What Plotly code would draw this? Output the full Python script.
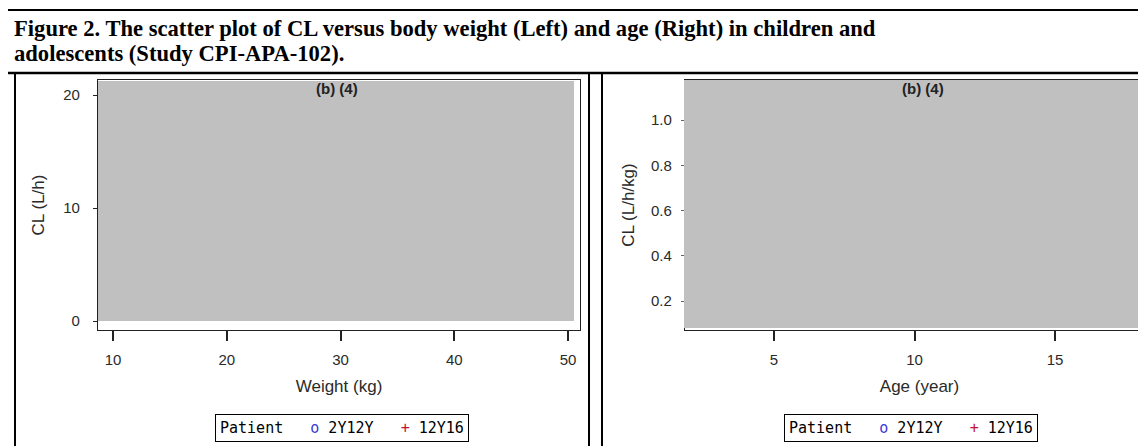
import plotly.graph_objects as go

W, H = 1146, 446

# ---- data (individual points are redacted "(b) (4)" in the source) ----
groups = ["2Y12Y", "12Y16"]
weight_2y12y, cl_2y12y = [], []
weight_12y16, cl_12y16 = [], []
age_2y12y, clkg_2y12y = [], []
age_12y16, clkg_12y16 = [], []

weight_ticks = [10, 20, 30, 40, 50]
cl_ticks = [0, 10, 20]
age_ticks = [5, 10, 15]
clkg_ticks = [0.2, 0.4, 0.6, 0.8, 1.0]

title_line1 = "Figure 2. The scatter plot of CL versus body weight (Left) and age (Right) in children and"
title_line2 = "adolescents (Study CPI-APA-102)."
redaction = "(b) (4)"
legend_title = "Patient"

BLUE = "#3a3ad8"
RED = "#c8102e"
TXT = "#2a2a2a"


def fx(px):
    return px / W


def fy(py):
    return 1 - py / H


fig = go.Figure()

series = [
    (weight_2y12y, cl_2y12y, "x", "y", groups[0], "circle-open", BLUE),
    (weight_12y16, cl_12y16, "x", "y", groups[1], "cross-thin-open", RED),
    (age_2y12y, clkg_2y12y, "x2", "y2", groups[0], "circle-open", BLUE),
    (age_12y16, clkg_12y16, "x2", "y2", groups[1], "cross-thin-open", RED),
]
for xs, ys, xa, ya, name, sym, col in series:
    fig.add_trace(go.Scatter(
        x=xs, y=ys, mode="markers", name=name, xaxis=xa, yaxis=ya, showlegend=False,
        marker=dict(symbol=sym, color=col, size=7, line=dict(width=1.5, color=col)),
    ))

tickfont = dict(family="Liberation Sans, Arial", size=15, color=TXT)
titlefont = dict(family="Liberation Sans, Arial", size=17, color=TXT)

L_x0, L_x1, top, bot = 90, 572, 72, 322
R_x0, R_x1 = 677, 1146

axis_common = dict(showline=True, linecolor="#222222", linewidth=1.2, mirror=True,
                   showgrid=False, zeroline=False, ticks="outside", tickfont=tickfont)

fig.update_layout(
    width=W, height=H, margin=dict(l=0, r=0, t=0, b=0),
    paper_bgcolor="white", plot_bgcolor="white", showlegend=False,
    xaxis=dict(domain=[fx(L_x0), fx(L_x1)], anchor="y",
               range=[10 - (105 - L_x0) / 11.375, 10 + (L_x1 - 105) / 11.375],
               tickvals=weight_ticks, ticklen=10, tickwidth=1.5, tickcolor="#222222",
               ticklabelstandoff=6,
               title=dict(text="Weight (kg)", font=titlefont, standoff=13), **axis_common),
    yaxis=dict(domain=[fy(bot), fy(top)], anchor="x",
               range=[-(bot - 313) / 11.3, (313 - top) / 11.3],
               tickvals=cl_ticks, ticklen=4, tickwidth=1.2, tickcolor="#222222",
               ticklabelstandoff=10,
               title=dict(text="CL (L/h)", font=titlefont, standoff=14), **axis_common),
    xaxis2=dict(domain=[fx(R_x0), fx(R_x1)], anchor="y2",
                range=[5 - (766 - R_x0) / 28.1, 5 + (R_x1 - 766) / 28.1],
                tickvals=age_ticks, ticklen=10, tickwidth=1.5, tickcolor="#222222",
                ticklabelstandoff=6,
                title=dict(text="Age (year)", font=titlefont, standoff=13), **axis_common),
    yaxis2=dict(domain=[fy(bot), fy(top)], anchor="x2",
                range=[1.0 - (bot - 112) / 226.25, 1.0 + (112 - top) / 226.25],
                tickvals=clkg_ticks, tickformat=".1f", ticklen=3, tickwidth=1, tickcolor="#666666",
                ticklabelstandoff=6,
                title=dict(text="CL (L/h/kg)", font=titlefont, standoff=12), **axis_common),
)

shapes = [
    dict(type="rect", xref="paper", yref="paper", x0=fx(90), x1=fx(566), y0=fy(313), y1=fy(73),
         fillcolor="#c0c0c0", line=dict(width=0), layer="below"),
    dict(type="rect", xref="paper", yref="paper", x0=fx(676), x1=fx(1146), y0=fy(320), y1=fy(72),
         fillcolor="#c0c0c0", line=dict(width=0), layer="above"),
    dict(type="line", xref="paper", yref="paper", x0=0, x1=1, y0=fy(2), y1=fy(2),
         line=dict(color="black", width=2)),
    dict(type="line", xref="paper", yref="paper", x0=0, x1=1, y0=fy(65), y1=fy(65),
         line=dict(color="black", width=2.5)),
    dict(type="line", xref="paper", yref="paper", x0=fx(7), x1=fx(7), y0=0, y1=fy(65),
         line=dict(color="black", width=2)),
    dict(type="line", xref="paper", yref="paper", x0=fx(581), x1=fx(581), y0=0, y1=fy(65),
         line=dict(color="black", width=2)),
    dict(type="line", xref="paper", yref="paper", x0=fx(594), x1=fx(594), y0=0, y1=fy(65),
         line=dict(color="black", width=2)),
]
fig.update_layout(shapes=shapes)

serif = dict(family="Liberation Serif, Times New Roman", size=22.6, color="black")
sans_b = dict(family="Liberation Sans, Arial", size=15, color="#222222")
mono = dict(family="DejaVu Sans Mono", size=15, color="black")

legend_text = (legend_title + "&nbsp;&nbsp;&nbsp;"
               + "<span style='color:%s'>o</span>&nbsp;%s&nbsp;&nbsp;&nbsp;" % (BLUE, groups[0])
               + "<span style='color:%s'>+</span>&nbsp;%s" % (RED, groups[1]))

annotations = [
    dict(text="<b>" + title_line1 + "</b>", x=fx(4), y=fy(20), xref="paper", yref="paper",
         xanchor="left", yanchor="middle", showarrow=False, font=serif),
    dict(text="<b>" + title_line2 + "</b>", x=fx(4), y=fy(46), xref="paper", yref="paper",
         xanchor="left", yanchor="middle", showarrow=False, font=serif),
    dict(text="<b>" + redaction + "</b>", x=fx(329), y=fy(81), xref="paper", yref="paper",
         xanchor="center", yanchor="middle", showarrow=False, font=sans_b),
    dict(text="<b>" + redaction + "</b>", x=fx(915), y=fy(81), xref="paper", yref="paper",
         xanchor="center", yanchor="middle", showarrow=False, font=sans_b),
    dict(text=legend_text, x=fx(334), y=fy(420), xref="paper", yref="paper",
         xanchor="center", yanchor="middle", showarrow=False, font=mono,
         bordercolor="black", borderwidth=1, borderpad=4, bgcolor="white"),
    dict(text=legend_text, x=fx(903), y=fy(420), xref="paper", yref="paper",
         xanchor="center", yanchor="middle", showarrow=False, font=mono,
         bordercolor="black", borderwidth=1, borderpad=4, bgcolor="white"),
]
fig.update_layout(annotations=annotations)

fig.write_html("out.html")
